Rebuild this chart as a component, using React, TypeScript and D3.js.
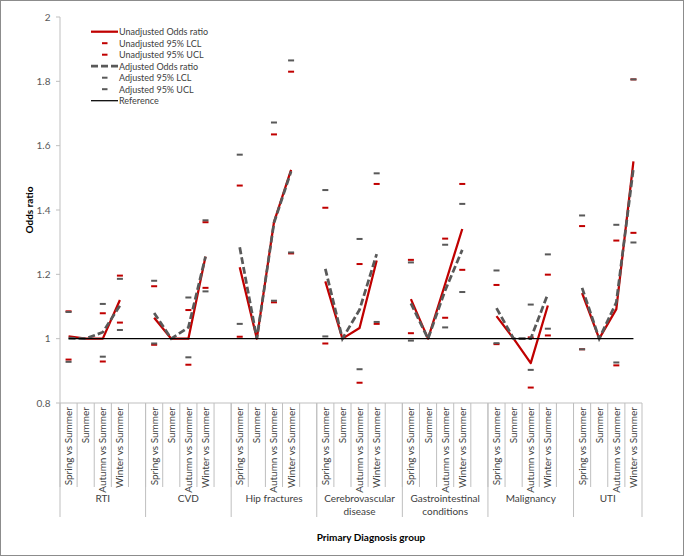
import React from "react";
import * as d3 from "d3";

const groups = ["RTI", "CVD", "Hip fractures", "Cerebrovascular disease", "Gastrointestinal conditions", "Malignancy", "UTI"];
const seasons = ["Spring vs Summer", "Summer", "Autumn vs Summer", "Winter vs Summer"];
const yTicks = [0.8, 1, 1.2, 1.4, 1.6, 1.8, 2];

// values per group: Spring, Summer, Autumn, Winter
const unadjOR = [
  1.007, 1, 1.0, 1.12,
  1.065, 1, 1.0, 1.255,
  1.222, 1, 1.362, 1.525,
  1.178, 1, 1.033, 1.243,
  1.123, 1, 1.17, 1.341,
  1.07, 1, 0.924, 1.103,
  1.142, 1, 1.092, 1.551,
];
const unadjLCL = [
  0.935, null, 0.929, 1.05,
  0.981, null, 0.919, 1.158,
  1.006, null, 1.113, 1.265,
  0.985, null, 0.863, 1.046,
  1.017, null, 1.065, 1.214,
  0.983, null, 0.848, 1.01,
  0.967, null, 0.917, 1.329,
];
const unadjUCL = [
  1.085, null, 1.079, 1.196,
  1.163, null, 1.089, 1.362,
  1.476, null, 1.635, 1.83,
  1.407, null, 1.232, 1.481,
  1.245, null, 1.311, 1.481,
  1.167, null, 1.004, 1.199,
  1.35, null, 1.305, 1.806,
];
const adjOR = [
  1.002, 1, 1.02, 1.103,
  1.08, 1, 1.035, 1.255,
  1.284, 1, 1.36, 1.52,
  1.217, 1, 1.09, 1.263,
  1.11, 1, 1.15, 1.276,
  1.095, 1, 1.0, 1.139,
  1.158, 1, 1.113, 1.53,
];
const adjLCL = [
  0.928, null, 0.944, 1.027,
  0.985, null, 0.942, 1.147,
  1.046, null, 1.118, 1.268,
  1.007, null, 0.905, 1.052,
  0.994, null, 1.035, 1.145,
  0.986, null, 0.903, 1.031,
  0.967, null, 0.926, 1.299,
];
const adjUCL = [
  1.083, null, 1.108, 1.186,
  1.18, null, 1.128, 1.368,
  1.572, null, 1.672, 1.865,
  1.462, null, 1.31, 1.514,
  1.237, null, 1.292, 1.419,
  1.212, null, 1.106, 1.262,
  1.383, null, 1.354, 1.806,
];
const referenceValue = 1;

const RED = "#C00000";
const GRAY = "#595959";
const FONT = "Lato, 'Liberation Sans', sans-serif";

type Slot = { idx: number; group: number; season: number | null };

export default function App() {
  const W = 685, H = 557;
  const left = 60, right = 642, top = 17, bottom = 403;

  const slots: Slot[] = [];
  groups.forEach((g, gi) => {
    seasons.forEach((s, si) => slots.push({ idx: slots.length, group: gi, season: si }));
    if (gi < groups.length - 1) slots.push({ idx: slots.length, group: gi, season: null });
  });

  const x = d3.scaleBand<number>().domain(slots.map((s) => s.idx)).range([left, right]).padding(0);
  const bw = x.bandwidth();
  const cx = (i: number) => (x(i) as number) + bw / 2;
  const y = d3.scaleLinear().domain([0.8, 2]).range([bottom, top]);

  const dataSlots = slots.filter((s) => s.season !== null);
  const series = (arr: (number | null)[]) =>
    slots.map((s) => {
      if (s.season === null) return { i: s.idx, v: null as number | null };
      const k = s.group * 4 + s.season;
      return { i: s.idx, v: arr[k] };
    });

  const line = d3
    .line<{ i: number; v: number | null }>()
    .defined((d) => d.v !== null)
    .x((d) => cx(d.i))
    .y((d) => y(d.v as number));

  const markers = (arr: (number | null)[], color: string, key: string) =>
    series(arr)
      .filter((d) => d.v !== null)
      .map((d) => (
        <rect key={key + d.i} x={cx(d.i) - 3} y={y(d.v as number) - 1} width={6} height={2} fill={color} />
      ));

  const refLine = d3.line<number>().x((i) => cx(i)).y(() => y(referenceValue));

  const groupBounds = groups.map((g, gi) => {
    const first = slots.find((s) => s.group === gi)!.idx;
    const lastIdx = slots.filter((s) => s.group === gi).slice(-1)[0].idx;
    return { x0: x(first) as number, x1: (x(lastIdx) as number) + bw, name: g };
  });

  const wrap = (t: string) => {
    if (t.length <= 14) return [t];
    const p = t.lastIndexOf(" ");
    return [t.slice(0, p), t.slice(p + 1)];
  };

  const legendItems = [
    { label: "Unadjusted Odds ratio", type: "line", color: RED, dash: "", w: 2.25 },
    { label: "Unadjusted 95% LCL", type: "marker", color: RED },
    { label: "Unadjusted 95% UCL", type: "marker", color: RED },
    { label: "Adjusted Odds ratio", type: "line", color: GRAY, dash: "7,3", w: 2.75 },
    { label: "Adjusted 95% LCL", type: "marker", color: GRAY },
    { label: "Adjusted 95% UCL", type: "marker", color: GRAY },
    { label: "Reference", type: "line", color: "#000", dash: "", w: 1.25 },
  ];

  return (
    <svg width={W} height={H} style={{ position: "absolute", left: 0, top: 0, background: "#fff" }} fontFamily={FONT}>
      <rect x={0.5} y={0.5} width={683} height={555} fill="#fff" stroke="#8c8c8c" />

      {/* y axis */}
      <line x1={left} x2={left} y1={top} y2={bottom} stroke="#bfbfbf" />
      {yTicks.map((t) => (
        <g key={t}>
          <line x1={left - 4} x2={left} y1={y(t)} y2={y(t)} stroke="#bfbfbf" />
          <text x={left - 9.5} y={y(t) + 3.5} textAnchor="end" fontSize={10} fill={GRAY}>
            {String(t)}
          </text>
        </g>
      ))}
      <text transform={`translate(33,${(top + bottom) / 2}) rotate(-90)`} textAnchor="middle" fontSize={10} fontWeight="bold" fill="#000">
        Odds ratio
      </text>

      {/* x axis multi-level */}
      <line x1={left} x2={right} y1={bottom} y2={bottom} stroke="#bfbfbf" />
      {slots.map((s) => (
        <line key={"b" + s.idx} x1={x(s.idx) as number} x2={x(s.idx) as number} y1={bottom} y2={487} stroke="#bfbfbf" />
      ))}
      <line x1={right} x2={right} y1={bottom} y2={517} stroke="#bfbfbf" />
      {groupBounds.map((g, gi) => (
        <line key={"gb" + gi} x1={g.x0} x2={g.x0} y1={bottom} y2={517} stroke="#bfbfbf" />
      ))}
      {dataSlots.map((s) => (
        <text
          key={"c" + s.idx}
          transform={`translate(${cx(s.idx) + 3.5},407) rotate(-90)`}
          textAnchor="end"
          fontSize={10}
          fill="#404040"
        >
          {seasons[s.season as number]}
        </text>
      ))}
      {groupBounds.map((g, gi) =>
        wrap(g.name).map((ln, li) => (
          <text key={"gl" + gi + li} x={(g.x0 + g.x1) / 2} y={502 + li * 13} textAnchor="middle" fontSize={10} fill="#404040">
            {ln}
          </text>
        ))
      )}
      <text x={371} y={541} textAnchor="middle" fontSize={10} fontWeight="bold" fill="#000">
        Primary Diagnosis group
      </text>

      {/* series */}
      <path d={line(series(unadjOR)) || ""} fill="none" stroke={RED} strokeWidth={2.25} strokeLinejoin="round" />
      {markers(unadjLCL, RED, "ul")}
      {markers(unadjUCL, RED, "uu")}
      <path d={line(series(adjOR)) || ""} fill="none" stroke={GRAY} strokeWidth={2.75} strokeDasharray="7,3" />
      {markers(adjLCL, GRAY, "al")}
      {markers(adjUCL, GRAY, "au")}
      <path d={refLine([0, slots.length - 1]) || ""} fill="none" stroke="#000" strokeWidth={1.25} />

      {/* legend */}
      {legendItems.map((it, i) => {
        const ly = 31.7 + i * 11.5;
        return (
          <g key={"lg" + i}>
            {it.type === "line" ? (
              <line x1={91} x2={118} y1={ly} y2={ly} stroke={it.color} strokeWidth={it.w} strokeDasharray={it.dash || undefined} />
            ) : (
              <rect x={102} y={ly - 1} width={5.5} height={2} fill={it.color} />
            )}
            <text x={119} y={ly + 3.3} fontSize={9} fill="#404040">
              {it.label}
            </text>
          </g>
        );
      })}
    </svg>
  );
}
